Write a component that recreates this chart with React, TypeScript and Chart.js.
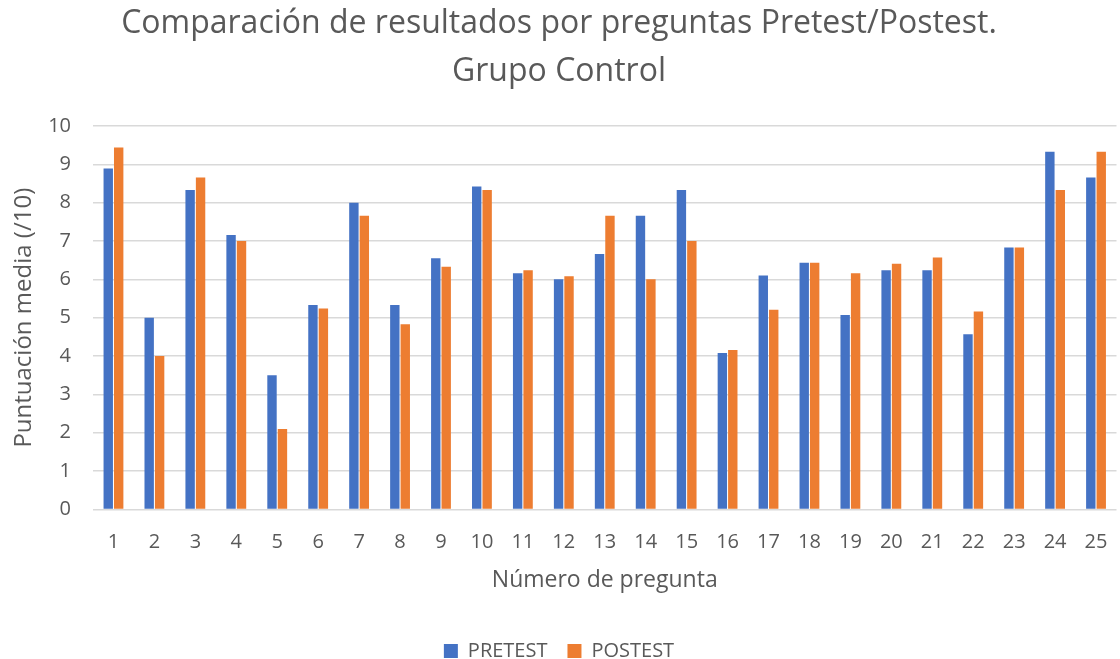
import React, { useEffect, useRef } from "react";
import { Chart, registerables } from "chart.js";

Chart.register(...registerables);

const categories = ["1","2","3","4","5","6","7","8","9","10","11","12","13","14","15","16","17","18","19","20","21","22","23","24","25"];
const pretest = [8.89, 5.0, 8.33, 7.16, 3.5, 5.33, 8.0, 5.33, 6.55, 8.42, 6.16, 6.0, 6.66, 7.66, 8.33, 4.08, 6.1, 6.43, 5.07, 6.24, 6.24, 4.57, 6.83, 9.33, 8.66];
const postest = [9.44, 4.0, 8.66, 7.0, 2.1, 5.24, 7.66, 4.83, 6.33, 8.33, 6.24, 6.08, 7.66, 6.0, 7.0, 4.16, 5.21, 6.43, 6.16, 6.41, 6.57, 5.16, 6.83, 8.33, 9.33];
const seriesNames = ["PRETEST", "POSTEST"];
const titleLines = ["Comparación de resultados por preguntas Pretest/Postest.", "Grupo Control"];
const xTitle = "Número de pregunta";
const yTitle = "Puntuación media (/10)";

export default function App() {
  const ref = useRef<HTMLCanvasElement>(null);
  useEffect(() => {
    document.body.style.margin = "0";
    const FONT = "'Open Sans', sans-serif";
    const grey = "#595959";
    const chart = new Chart(ref.current!, {
      type: "bar",
      data: {
        labels: categories,
        datasets: [
          { label: seriesNames[0], data: pretest, backgroundColor: "#4472C4", borderWidth: 0, barPercentage: 0.9, categoryPercentage: 0.51 },
          { label: seriesNames[1], data: postest, backgroundColor: "#ED7D31", borderWidth: 0, barPercentage: 0.9, categoryPercentage: 0.51 },
        ],
      },
      options: {
        animation: false,
        responsive: false,
        maintainAspectRatio: false,
        layout: { padding: { top: 0, right: 2, left: 0, bottom: -12 } },
        plugins: {
          title: {
            display: true,
            text: titleLines,
            color: grey,
            font: { family: FONT, size: 32, weight: "normal", lineHeight: 1.5 },
            padding: { top: 0, bottom: 30 },
          },
          legend: {
            position: "bottom",
            labels: {
              color: grey,
              font: { family: FONT, size: 20 },
              boxWidth: 14,
              boxHeight: 14,
              padding: 20,
            },
          },
          tooltip: { enabled: false },
        },
        scales: {
          x: {
            grid: { display: false },
            border: { display: false },
            ticks: { color: grey, font: { family: FONT, size: 20 }, padding: 12.5, maxRotation: 0, autoSkip: false },
            title: { display: true, text: xTitle, color: grey, font: { family: FONT, size: 23 }, padding: { top: 0, bottom: 27 } },
          },
          y: {
            min: 0,
            max: 10,
            afterFit: (s: any) => { s.width = 93; },
            grid: { color: "#d9d9d9", lineWidth: 1.5, drawTicks: false },
            border: { display: false },
            ticks: { stepSize: 1, color: grey, font: { family: FONT, size: 20 }, padding: 22 },
            title: { display: true, text: yTitle, color: grey, font: { family: FONT, size: 24 }, padding: { top: 10, bottom: 0 } },
          },
        },
      },
    });
    return () => chart.destroy();
  }, []);
  return (
    <div style={{ width: 1120, height: 659 }}>
      <canvas ref={ref} width={1120} height={659} style={{ width: 1120, height: 659, display: "block" }} />
    </div>
  );
}
